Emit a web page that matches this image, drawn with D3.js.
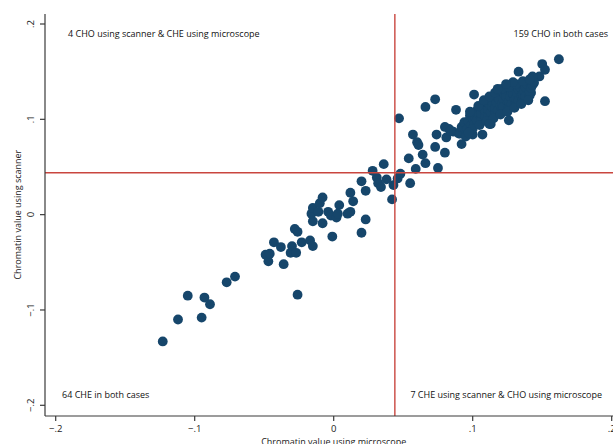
<!DOCTYPE html>
<html>
<head>
<meta charset="utf-8">
<script src="https://cdn.jsdelivr.net/npm/d3@7"></script>
<style>
  html, body { margin: 0; padding: 0; background: #fff; }
  svg { display: block; font-family: "Open Sans", sans-serif; }
</style>
</head>
<body>
<svg id="chart" width="613" height="444"></svg>
<script>
// ==================== DATA ====================
// microscope value (x), scanner value (y)
const microscope = [
  -0.123, -0.112, -0.105, -0.095, -0.093, -0.089, -0.077, -0.071,
  -0.049, -0.047, -0.046, -0.043, -0.038, -0.036, -0.031, -0.030,
  -0.028, -0.026, -0.027, -0.023, -0.017, -0.015, -0.026, -0.015,
  -0.008, -0.001, 0.020,
  -0.016, -0.015, -0.011, -0.010, -0.008, -0.004, -0.002, 0.002,
  0.004, 0.003, 0.010, 0.012, 0.012, 0.014, 0.020, 0.023, 0.023,
  0.028, 0.031, 0.032, 0.036, 0.034, 0.038, 0.042, 0.043,
  0.046, 0.048, 0.047, 0.054, 0.055, 0.059, 0.057, 0.060, 0.061,
  0.066, 0.064, 0.066, 0.073, 0.073, 0.074, 0.075, 0.080, 0.081,
  0.083, 0.088, 0.086, 0.090, 0.092, 0.094, 0.100, 0.101, 0.107,
  0.113, 0.126, 0.133, 0.152, 0.162, 0.150, 0.152, 0.148, 0.144,
  0.142, 0.080, 0.084, 0.143,
  // dense cluster
  0.091, 0.092, 0.094, 0.095,
  0.096, 0.097, 0.098, 0.099, 0.100,
  0.101, 0.102, 0.102, 0.104, 0.103, 0.105,
  0.106, 0.106, 0.107, 0.108, 0.109, 0.109, 0.110,
  0.111, 0.111, 0.112, 0.113, 0.113, 0.114, 0.115, 0.114,
  0.116, 0.116, 0.117, 0.118, 0.119, 0.118, 0.120, 0.119,
  0.121, 0.121, 0.122, 0.123, 0.124, 0.122, 0.125, 0.124,
  0.126, 0.126, 0.127, 0.128, 0.129, 0.128, 0.130, 0.129,
  0.131, 0.131, 0.132, 0.133, 0.134, 0.133, 0.135,
  0.136, 0.136, 0.137, 0.138, 0.139, 0.138,
  0.141, 0.141, 0.142, 0.143, 0.144,
  // cluster edges
  0.098, 0.104, 0.108, 0.112, 0.116, 0.121, 0.126, 0.131, 0.136,
  0.141, 0.118, 0.118, 0.129, 0.124,
  0.095, 0.100, 0.105, 0.110, 0.115, 0.120, 0.125, 0.130, 0.135,
  0.140, 0.112, 0.097
];
const scanner = [
  -0.133, -0.110, -0.085, -0.108, -0.087, -0.094, -0.071, -0.065,
  -0.042, -0.049, -0.041, -0.029, -0.034, -0.052, -0.040, -0.033,
  -0.015, -0.018, -0.040, -0.029, -0.027, -0.033, -0.084, -0.007,
  -0.009, -0.023, -0.019,
  0.001, 0.007, 0.003, 0.012, 0.018, 0.003, -0.001, -0.003,
  0.010, 0.001, 0.001, 0.003, 0.023, 0.014, 0.035, -0.005, 0.025,
  0.046, 0.039, 0.033, 0.053, 0.029, 0.037, 0.016, 0.031,
  0.038, 0.043, 0.101, 0.059, 0.033, 0.048, 0.084, 0.076, 0.073,
  0.054, 0.063, 0.113, 0.121, 0.071, 0.084, 0.049, 0.065, 0.081,
  0.090, 0.110, 0.087, 0.085, 0.074, 0.095, 0.084, 0.126, 0.084,
  0.095, 0.099, 0.150, 0.119, 0.163, 0.158, 0.152, 0.145, 0.138,
  0.128, 0.092, 0.088, 0.145,
  // dense cluster
  0.085, 0.092, 0.097, 0.088,
  0.090, 0.098, 0.104, 0.094, 0.101,
  0.095, 0.102, 0.108, 0.111, 0.099, 0.105,
  0.100, 0.106, 0.112, 0.115, 0.103, 0.109, 0.118,
  0.104, 0.110, 0.116, 0.120, 0.107, 0.113, 0.122, 0.118,
  0.106, 0.112, 0.118, 0.123, 0.125, 0.109, 0.115, 0.121,
  0.110, 0.116, 0.121, 0.126, 0.129, 0.113, 0.119, 0.124,
  0.113, 0.119, 0.124, 0.128, 0.131, 0.116, 0.122, 0.127,
  0.117, 0.122, 0.127, 0.131, 0.134, 0.120, 0.125,
  0.121, 0.126, 0.130, 0.134, 0.137, 0.124,
  0.125, 0.129, 0.133, 0.136, 0.139,
  // cluster edges
  0.108, 0.114, 0.120, 0.124, 0.128, 0.132, 0.134, 0.137, 0.140,
  0.142, 0.131, 0.132, 0.139, 0.137,
  0.082, 0.090, 0.094, 0.098, 0.101, 0.105, 0.108, 0.112, 0.116,
  0.120, 0.095, 0.086
];
const xTicks = [-0.2, -0.1, 0, 0.1, 0.2];
const yTicks = [-0.2, -0.1, 0, 0.1, 0.2];
const tickLabels = ['\u2212.2', '\u2212.1', '0', '.1', '.2'];
const cutoffX = 0.044;
const cutoffY = 0.044;
const quadrantNotes = [
  '4 CHO using scanner & CHE using microscope',
  '159 CHO in both cases',
  '64 CHE in both cases',
  '7 CHE using scanner & CHO using microscope'
];

// ==================== CHART ====================
const svg = d3.select('#chart');
const plotLeft = 45, plotTop = 14, plotBottom = 416, plotRight = 613;

const x = d3.scaleLinear().domain([-0.2, 0.2]).range([55.7, 611.7]);
const y = d3.scaleLinear().domain([-0.2, 0.2]).range([405.3, 24]);

const axisColor = '#3a3a3a';
const markColor = '#16466b';
const lineColor = '#c9463f';
const labelSize = '9px';

// points
const pts = microscope.map((m, i) => ({ m, s: scanner[i] }));
svg.append('g')
  .selectAll('circle')
  .data(pts)
  .join('circle')
  .attr('cx', (d) => x(d.m))
  .attr('cy', (d) => y(d.s))
  .attr('r', 4.9)
  .attr('fill', markColor);

// cutoff lines
svg.append('line')
  .attr('x1', x(cutoffX)).attr('x2', x(cutoffX))
  .attr('y1', plotTop).attr('y2', plotBottom)
  .attr('stroke', lineColor).attr('stroke-width', 1.4);
svg.append('line')
  .attr('x1', plotLeft).attr('x2', plotRight)
  .attr('y1', y(cutoffY)).attr('y2', y(cutoffY))
  .attr('stroke', lineColor).attr('stroke-width', 1.4);

// y axis
const yAxis = svg.append('g');
yAxis.append('line')
  .attr('x1', plotLeft).attr('x2', plotLeft)
  .attr('y1', plotTop).attr('y2', plotBottom)
  .attr('stroke', axisColor).attr('stroke-width', 1.2);
yTicks.forEach((t, i) => {
  yAxis.append('line')
    .attr('x1', plotLeft - 5).attr('x2', plotLeft)
    .attr('y1', y(t)).attr('y2', y(t))
    .attr('stroke', axisColor).attr('stroke-width', 1.2);
  yAxis.append('text')
    .attr('transform', `translate(34,${y(t)}) rotate(-90)`)
    .attr('text-anchor', 'middle')
    .attr('font-size', '9.5px')
    .attr('fill', '#222')
    .text(tickLabels[i]);
});
svg.append('text')
  .attr('transform', `translate(21,${y(0)}) rotate(-90)`)
  .attr('text-anchor', 'middle')
  .attr('font-size', labelSize)
  .attr('fill', '#222')
  .text('Chromatin value using scanner');

// x axis
const xAxis = svg.append('g');
xAxis.append('line')
  .attr('x1', plotLeft).attr('x2', plotRight)
  .attr('y1', plotBottom).attr('y2', plotBottom)
  .attr('stroke', axisColor).attr('stroke-width', 1.2);
xTicks.forEach((t, i) => {
  xAxis.append('line')
    .attr('x1', x(t)).attr('x2', x(t))
    .attr('y1', plotBottom).attr('y2', plotBottom + 5)
    .attr('stroke', axisColor).attr('stroke-width', 1.2);
  xAxis.append('text')
    .attr('x', x(t)).attr('y', 432)
    .attr('text-anchor', 'middle')
    .attr('font-size', '9.5px')
    .attr('fill', '#222')
    .text(tickLabels[i]);
});
svg.append('text')
  .attr('x', x(0)).attr('y', 445)
  .attr('text-anchor', 'middle')
  .attr('font-size', labelSize)
  .attr('fill', '#222')
  .text('Chromatin value using microscope');

// quadrant notes
const notePos = [
  { x: 68, y: 37, anchor: 'start' },
  { x: 608, y: 37, anchor: 'end' },
  { x: 62, y: 398, anchor: 'start' },
  { x: 602, y: 398, anchor: 'end' }
];
svg.append('g')
  .selectAll('text')
  .data(quadrantNotes)
  .join('text')
  .attr('x', (d, i) => notePos[i].x)
  .attr('y', (d, i) => notePos[i].y)
  .attr('text-anchor', (d, i) => notePos[i].anchor)
  .attr('font-size', labelSize)
  .attr('fill', '#111')
  .text((d) => d);
</script>
</body>
</html>
